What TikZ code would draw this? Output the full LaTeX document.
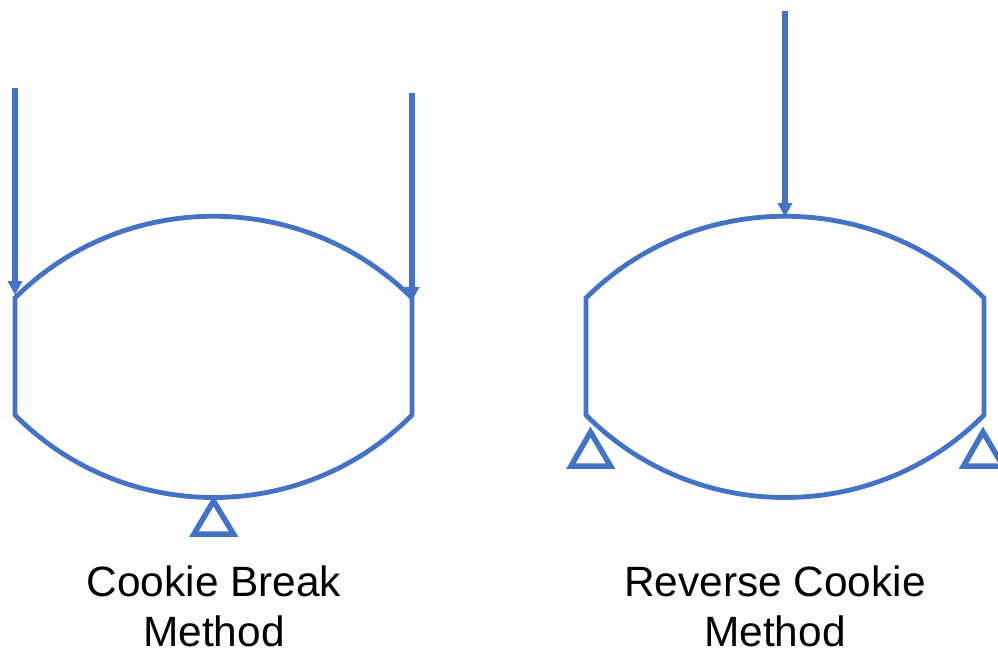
\documentclass[tikz,border=0pt]{standalone}
\usepackage{fontspec}
\setmainfont{Liberation Sans}
\usetikzlibrary{arrows.meta}
\definecolor{beam}{RGB}{68,114,196}
\tikzset{
  beamline/.style={draw=beam,line width=4.8pt},
  loadarrow/.style={draw=beam,line width=5.2pt,-{Triangle[length=14pt,width=14pt]}},
  support/.style={draw=beam,line width=5.5pt,miter limit=10},
  caption/.style={align=center,font=\fontsize{42.4}{50}\selectfont,text=black,inner sep=0pt}
}
\begin{document}
\begin{tikzpicture}[x=1pt,y=-1pt]
\useasboundingbox (0,0) rectangle (998,648);
% Left specimen
\coordinate (lTL) at (15,298);
\coordinate (lTR) at (412,298);
\coordinate (lBL) at (15,415);
\coordinate (lBR) at (412,415);
\draw[beamline,line join=miter] (lBL) -- (lTL) .. controls (124,189) and (303,189) .. (lTR) -- (lBR) .. controls (303,525) and (124,525) .. cycle;
% Right specimen
\coordinate (rTL) at (586,298);
\coordinate (rTR) at (984,298);
\coordinate (rBL) at (586,415);
\coordinate (rBR) at (984,415);
\draw[beamline,line join=miter] (rBL) -- (rTL) .. controls (695,189) and (875,189) .. (rTR) -- (rBR) .. controls (875,525) and (695,525) .. cycle;
% Loads
\coordinate (a1s) at (15,88);
\coordinate (a1e) at (15,295);
\coordinate (a2s) at (412,93);
\coordinate (a2e) at (412,301);
\coordinate (a3s) at (785,11);
\coordinate (a3e) at (785,217);
\draw[loadarrow] (a1s) -- (a1e);
\draw[loadarrow] (a2s) -- (a2e);
\draw[loadarrow] (a3s) -- (a3e);
% Supports
\draw[support] (213.5,501) -- (194,534) -- (233.5,534) -- cycle;
\draw[support] (590.5,432) -- (571,466) -- (610.5,466) -- cycle;
\draw[support] (983,432) -- (963.5,466) -- (1003,466) -- cycle;
% Captions
\node[caption] (capL) at (214,606) {Cookie Break\\Method};
\node[caption] (capR) at (775,606) {Reverse Cookie\\Method};
\end{tikzpicture}
\end{document}
